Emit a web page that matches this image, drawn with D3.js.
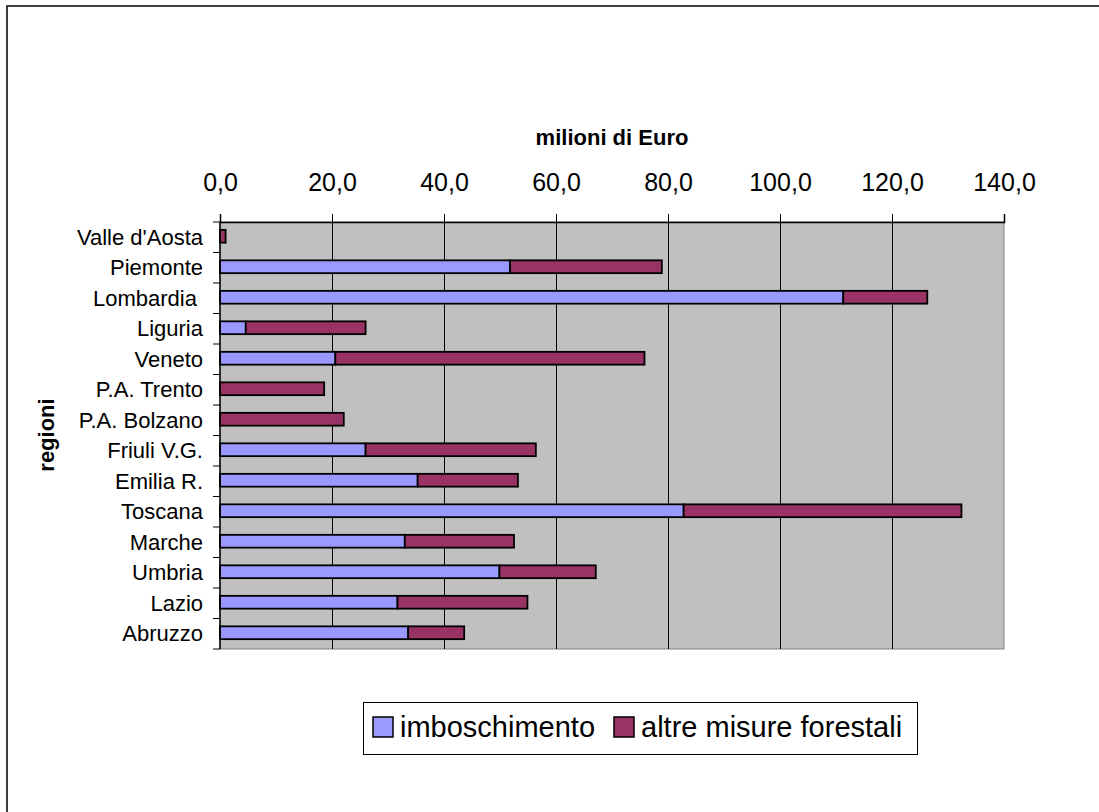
<!DOCTYPE html>
<html>
  <head>
    <title>Misure forestali per regione</title>
    <meta charset="utf-8">
    <script type="text/javascript" src="https://d3js.org/d3.v7.min.js"></script>
    <style>
      body { margin: 0; background: #fff; }
      text { font-family: "Liberation Sans", Arial, sans-serif; fill: #000; }
    </style>
  </head>

  <body>
    <svg></svg>

    <script type="text/javascript">
      "use strict";

      // data (milioni di Euro)
      var regioni = ["Valle d'Aosta", "Piemonte", "Lombardia ", "Liguria", "Veneto",
                     "P.A. Trento", "P.A. Bolzano", "Friuli V.G.", "Emilia R.",
                     "Toscana", "Marche", "Umbria", "Lazio", "Abruzzo"];
      var imboschimento = [0, 51.8, 111.3, 4.6, 20.6, 0, 0, 26.0, 35.3, 82.8, 33.0, 49.9, 31.7, 33.6];
      var altreMisure   = [1.0, 27.1, 15.0, 21.4, 55.2, 18.6, 22.1, 30.4, 17.9, 49.6, 19.5, 17.2, 23.2, 10.0];
      var serie = ["imboschimento", "altre misure forestali"];
      var colori = ["#9999ff", "#993366"];
      var xTicks = [0, 20, 40, 60, 80, 100, 120, 140];

      var svg = d3.select('svg')
                  .attr('width', 1099)
                  .attr('height', 812);

      // outer chart border (cut by the picture on right and bottom)
      svg.append('rect')
         .attr('x', 7).attr('y', 6)
         .attr('width', 1100).attr('height', 820)
         .attr('fill', 'none')
         .attr('stroke', '#000')
         .attr('stroke-width', 1.5);

      var x = d3.scaleLinear()
                .domain([0, 140])
                .range([220, 1004]);

      var y = d3.scaleBand()
                .domain(regioni)
                .range([222, 649])
                .paddingInner(0.58)
                .paddingOuter(0.29);

      var plotTop = y.range()[0], plotBottom = y.range()[1];

      // plot area
      svg.append('rect')
         .attr('x', x(0)).attr('y', plotTop)
         .attr('width', x(140) - x(0)).attr('height', plotBottom - plotTop)
         .attr('fill', '#c0c0c0')
         .attr('stroke', '#808080')
         .attr('stroke-width', 1);

      // vertical gridlines
      svg.append('g').selectAll('line')
         .data(xTicks.slice(1, -1))
         .enter().append('line')
         .attr('x1', function(d) { return Math.round(x(d)) + 0.5; })
         .attr('x2', function(d) { return Math.round(x(d)) + 0.5; })
         .attr('y1', plotTop).attr('y2', plotBottom)
         .attr('stroke', '#000')
         .attr('stroke-width', 1);

      // stacked bars
      var rows = regioni.map(function(r, i) {
        return { regione: r, imb: imboschimento[i], altre: altreMisure[i] };
      });
      var stacked = d3.stack().keys(['imb', 'altre'])(rows);

      svg.append('g').selectAll('g')
         .data(stacked)
         .enter().append('g')
         .attr('fill', function(d, i) { return colori[i]; })
         .selectAll('rect')
         .data(function(d) { return d.filter(function(p) { return p[1] > p[0]; }); })
         .enter().append('rect')
         .attr('x', function(d) { return x(d[0]); })
         .attr('y', function(d) { return y(d.data.regione) - 1; })
         .attr('width', function(d) { return x(d[1]) - x(d[0]); })
         .attr('height', y.bandwidth())
         .attr('stroke', '#000')
         .attr('stroke-width', 1.8);

      // top value axis
      var fmt = function(d) { return d3.format('.1f')(d).replace('.', ','); };
      var xAxis = svg.append('g')
                     .attr('transform', 'translate(0,' + plotTop + ')')
                     .call(d3.axisTop(x)
                             .tickValues(xTicks)
                             .tickSize(8)
                             .tickPadding(23)
                             .tickFormat(fmt));
      xAxis.select('.domain').attr('stroke', '#000').attr('stroke-width', 1.5);
      xAxis.selectAll('.tick line').attr('stroke', '#000');
      xAxis.selectAll('text')
           .attr('font-size', '25px')
           .attr('font-family', '"Liberation Sans", Arial, sans-serif')
           .attr('fill', '#000');

      // left category axis
      svg.append('line')
         .attr('x1', x(0)).attr('x2', x(0))
         .attr('y1', plotTop).attr('y2', plotBottom)
         .attr('stroke', '#000').attr('stroke-width', 1.5);

      var gap = (y.step() - y.bandwidth()) / 2;
      var bounds = regioni.map(function(r) { return y(r) - gap; }).concat([plotBottom]);
      svg.append('g').selectAll('line')
         .data(bounds)
         .enter().append('line')
         .attr('x1', x(0) - 7).attr('x2', x(0))
         .attr('y1', function(d) { return d; })
         .attr('y2', function(d) { return d; })
         .attr('stroke', '#000')
         .attr('stroke-width', 1);

      svg.append('g').selectAll('text')
         .data(regioni)
         .enter().append('text')
         .attr('x', 203)
         .attr('y', function(d) { return y(d) + y.bandwidth() / 2; })
         .attr('dy', '0.35em')
         .attr('text-anchor', 'end')
         .attr('font-size', '22px')
         .style('white-space', 'pre')
         .text(function(d) { return d; });

      // axis titles
      svg.append('text')
         .attr('x', 612).attr('y', 145)
         .attr('text-anchor', 'middle')
         .attr('font-size', '22px')
         .attr('font-weight', 'bold')
         .text('milioni di Euro');

      svg.append('text')
         .attr('transform', 'translate(54,435) rotate(-90)')
         .attr('text-anchor', 'middle')
         .attr('font-size', '22px')
         .attr('font-weight', 'bold')
         .text('regioni');

      // legend
      var legend = svg.append('g');
      legend.append('rect')
            .attr('x', 363.5).attr('y', 702.5)
            .attr('width', 554).attr('height', 52)
            .attr('fill', '#fff')
            .attr('stroke', '#000')
            .attr('stroke-width', 1);

      var legX = [373, 614];
      var items = legend.selectAll('g.item')
                        .data(serie)
                        .enter().append('g')
                        .attr('class', 'item')
                        .attr('transform', function(d, i) { return 'translate(' + legX[i] + ',717)'; });
      items.append('rect')
           .attr('width', 20).attr('height', 20)
           .attr('fill', function(d, i) { return colori[i]; })
           .attr('stroke', '#000')
           .attr('stroke-width', 1.5);
      items.append('text')
           .attr('x', 27).attr('y', 20)
           .attr('font-size', '29px')
           .text(function(d) { return d; });
    </script>
  </body>
</html>
